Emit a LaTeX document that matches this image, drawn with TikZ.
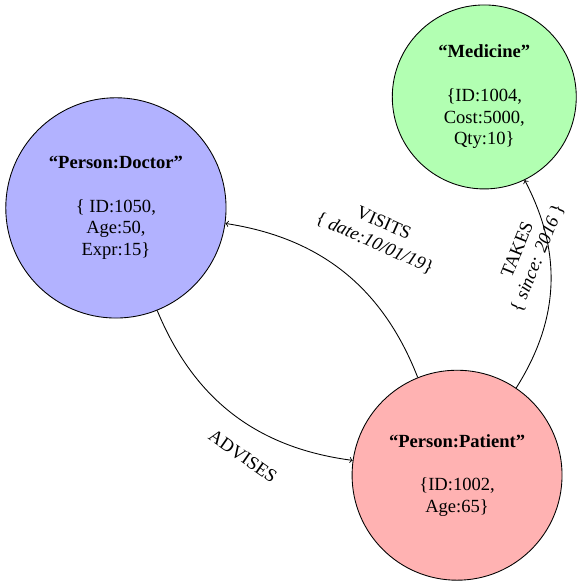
\documentclass[tikz,border=0pt,12pt]{standalone}
\usepackage{fontspec}
\setmainfont{Liberation Serif}
\tikzset{entity/.style={circle, draw=black, line width=0.6pt, align=center, inner sep=0pt},
	rellabel/.style={align=center, inner sep=1pt}}

\begin{document}
\begin{tikzpicture}[font=\fontsize{12.8}{15}\selectfont]
		%%%%% START %%%%%
		
		\useasboundingbox (0, 0) rectangle (14.04, -14.23);
		
		\node[entity, fill=blue!30, minimum size=5.34cm] (doctor) at (2.81, -5.04) {\textbf{``Person:Doctor''}\\[\baselineskip]\{ ID:1050,\\Age:50,\\Expr:15\}};
		\node[entity, fill=red!30, minimum size=5.09cm] (patient) at (11.08, -11.52) {\textbf{``Person:Patient''}\\[\baselineskip]\{ID:1002,\\Age:65\}};
		\node[entity, fill=green!30, minimum size=4.46cm] (medicine) at (11.74, -2.35) {\textbf{``Medicine''}\\[\baselineskip]\{ID:1004,\\Cost:5000,\\Qty:10\}};
		
		\draw[->, line width=0.6pt] (doctor) to[bend right] (patient);
		\draw[->, line width=0.6pt] (patient) to[bend right] (doctor);
		\draw[->, line width=0.6pt] (patient) to[bend right] (medicine);
		
		\node[rellabel, rotate=-35] (advises) at (5.89, -11.06) {ADVISES};
		\node[rellabel, rotate=-24] (visits) at (9.19, -5.67) {VISITS\\\{ \textit{date:10/01/19}\}};
		\node[rellabel, rotate=68] (takes) at (12.80, -6.16) {TAKES\\\{ \textit{since: 2016} \}};
		
		%%%%% END %%%%%
	\end{tikzpicture}
\end{document}
